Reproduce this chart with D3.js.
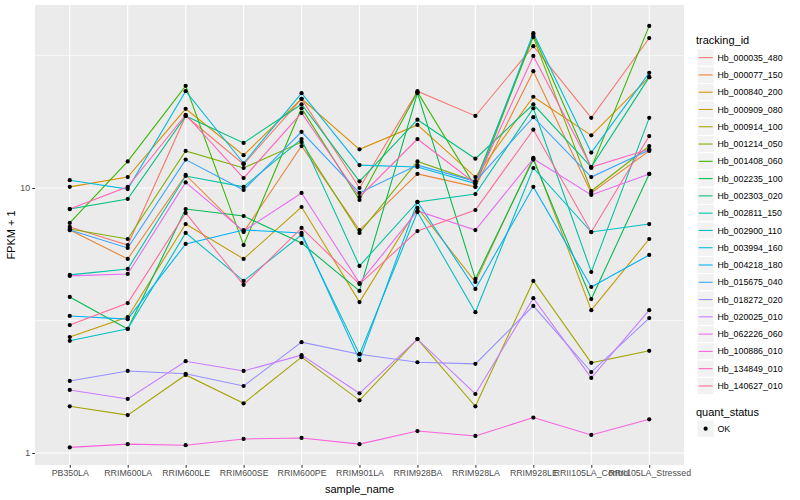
<!DOCTYPE html>
<html>
<head>
<meta charset="utf-8">
<script src="https://cdn.jsdelivr.net/npm/d3@7"></script>
<style>
  body { margin: 0; background: #fff; }
  text { font-family: "Liberation Sans", Arial, sans-serif; }
</style>
</head>
<body>
<svg id="chart" width="800" height="500"></svg>
<script>
// samples on the x axis
var samples = ["PB350LA", "RRIM600LA", "RRIM600LE", "RRIM600SE", "RRIM600PE", "RRIM901LA",
               "RRIM928BA", "RRIM928LA", "RRIM928LE", "RRII105LA_Control", "RRII105LA_Stressed"];

var trackingIds = ["Hb_000035_480", "Hb_000077_150", "Hb_000840_200", "Hb_000909_080", "Hb_000914_100",
                   "Hb_001214_050", "Hb_001408_060", "Hb_002235_100", "Hb_002303_020", "Hb_002811_150",
                   "Hb_002900_110", "Hb_003994_160", "Hb_004218_180", "Hb_015675_040", "Hb_018272_020",
                   "Hb_020025_010", "Hb_062226_060", "Hb_100886_010", "Hb_134849_010", "Hb_140627_010"];

// FPKM + 1, one array per gene, in sample order
var hb_000035_480 = [7.13, 6.09, 18.7, 12.3, 21.7, 10.0, 23.2, 18.7, 34.3, 18.4, 36.8];
var hb_000077_150 = [6.94, 5.40, 11.2, 6.82, 14.4, 6.94, 11.3, 10.1, 27.6, 9.58, 13.8];
var hb_000840_200 = [10.1, 11.0, 19.9, 13.3, 21.7, 14.0, 17.3, 11.0, 22.1, 15.8, 26.2];
var hb_000909_080 = [2.74, 3.26, 7.31, 5.40, 8.48, 3.71, 8.41, 4.42, 13.0, 3.46, 6.42];
var hb_000914_100 = [1.50, 1.39, 1.97, 1.54, 2.30, 1.58, 2.69, 1.50, 4.46, 2.19, 2.43];
var hb_001214_050 = [7.00, 6.42, 13.8, 11.9, 14.9, 6.77, 12.6, 10.6, 37.1, 9.74, 14.4];
var hb_001408_060 = [7.38, 12.6, 24.3, 6.09, 20.0, 9.01, 23.0, 10.1, 37.8, 11.9, 40.9];
var hb_002235_100 = [3.88, 2.94, 8.33, 7.84, 6.20, 4.09, 22.8, 4.54, 12.8, 3.81, 11.3];
var hb_002303_020 = [8.33, 9.09, 18.7, 14.8, 20.7, 10.6, 18.1, 12.9, 20.7, 12.0, 26.2];
var hb_002811_150 = [4.70, 4.95, 11.1, 10.1, 15.3, 5.08, 8.86, 9.49, 20.0, 4.82, 18.4];
var hb_002900_110 = [2.65, 2.94, 6.77, 4.46, 6.65, 2.36, 8.12, 3.40, 11.9, 6.82, 7.31];
var hb_003994_160 = [10.7, 9.91, 23.2, 12.4, 22.8, 12.2, 12.0, 10.4, 38.4, 13.6, 27.2];
var hb_004218_180 = [3.29, 3.20, 6.15, 6.94, 6.77, 2.24, 8.86, 4.16, 10.1, 4.23, 5.59];
var hb_015675_040 = [6.94, 5.94, 12.8, 9.83, 16.3, 9.58, 12.2, 10.6, 18.5, 11.0, 13.9];
var hb_018272_020 = [1.87, 2.04, 1.99, 1.79, 2.62, 2.36, 2.20, 2.17, 3.59, 2.02, 3.23];
var hb_020025_010 = [1.73, 1.60, 2.22, 2.04, 2.34, 1.68, 2.69, 1.67, 3.84, 1.92, 3.46];
var hb_062226_060 = [4.66, 4.74, 10.5, 6.88, 9.58, 4.38, 8.19, 6.94, 12.9, 9.41, 11.3];
var hb_100886_010 = [1.05, 1.08, 1.07, 1.13, 1.14, 1.08, 1.21, 1.16, 1.36, 1.17, 1.34];
var hb_134849_010 = [8.33, 10.1, 18.9, 10.9, 19.2, 9.25, 15.3, 10.4, 31.5, 12.0, 14.0];
var hb_140627_010 = [3.04, 3.68, 8.05, 4.31, 7.07, 4.34, 6.88, 8.26, 16.6, 6.82, 15.7];

var fpkm = [hb_000035_480, hb_000077_150, hb_000840_200, hb_000909_080, hb_000914_100,
            hb_001214_050, hb_001408_060, hb_002235_100, hb_002303_020, hb_002811_150,
            hb_002900_110, hb_003994_160, hb_004218_180, hb_015675_040, hb_018272_020,
            hb_020025_010, hb_062226_060, hb_100886_010, hb_134849_010, hb_140627_010];

var yTicks = [1, 10];
var quantStatus = ["OK"];

// ggplot hue palette for 20 groups
var colors = ["#F8766D", "#EA8331", "#D89000", "#C09B00", "#A3A500", "#7CAE00", "#39B600",
              "#00BB4E", "#00BF7D", "#00C1A3", "#00BFC4", "#00BAE0", "#00B0F6", "#35A2FF",
              "#9590FF", "#C77CFF", "#E76BF3", "#FA62DB", "#FF62BC", "#FF6A98"];

var svg = d3.select("#chart");
var panel = {left: 35, right: 684, top: 5, bottom: 465};

var x = d3.scalePoint()
    .domain(samples)
    .range([panel.left, panel.right])
    .padding(0.6);

var y = d3.scaleLog()
    .domain([Math.pow(10, -0.0453), Math.pow(10, 1.6906)])
    .range([panel.bottom, panel.top]);

// panel background
svg.append("rect")
    .attr("x", panel.left).attr("y", panel.top)
    .attr("width", panel.right - panel.left)
    .attr("height", panel.bottom - panel.top)
    .attr("fill", "#EBEBEB");

// minor grid (half decades)
svg.selectAll(".minor")
    .data([Math.pow(10, 0.5), Math.pow(10, 1.5)])
    .enter().append("line")
    .attr("x1", panel.left).attr("x2", panel.right)
    .attr("y1", function(d) { return y(d); })
    .attr("y2", function(d) { return y(d); })
    .attr("stroke", "#fff").attr("stroke-width", 0.55);

// major grid
svg.selectAll(".hgrid")
    .data(yTicks)
    .enter().append("line")
    .attr("x1", panel.left).attr("x2", panel.right)
    .attr("y1", function(d) { return y(d); })
    .attr("y2", function(d) { return y(d); })
    .attr("stroke", "#fff").attr("stroke-width", 1.1);

svg.selectAll(".vgrid")
    .data(samples)
    .enter().append("line")
    .attr("y1", panel.top).attr("y2", panel.bottom)
    .attr("x1", function(d) { return x(d); })
    .attr("x2", function(d) { return x(d); })
    .attr("stroke", "#fff").attr("stroke-width", 1.1);

// lines, one per gene
var line = d3.line()
    .x(function(d, i) { return x(samples[i]); })
    .y(function(d) { return y(d); });

svg.selectAll(".gene")
    .data(fpkm)
    .enter().append("path")
    .attr("d", line)
    .attr("fill", "none")
    .attr("stroke", function(d, i) { return colors[i]; })
    .attr("stroke-width", 1.07);

// points
var pts = [];
fpkm.forEach(function(series) {
    series.forEach(function(v, i) { pts.push({s: samples[i], v: v}); });
});
svg.selectAll(".pt")
    .data(pts)
    .enter().append("circle")
    .attr("cx", function(d) { return x(d.s); })
    .attr("cy", function(d) { return y(d.v); })
    .attr("r", 2.1)
    .attr("fill", "#000");

// axes
var yAxis = svg.append("g")
    .attr("transform", "translate(" + panel.left + ",0)")
    .call(d3.axisLeft(y).tickValues(yTicks).tickFormat(d3.format("d")).tickSize(2.74).tickPadding(2.2));
var xAxis = svg.append("g")
    .attr("transform", "translate(0," + panel.bottom + ")")
    .call(d3.axisBottom(x).tickSize(2.74).tickPadding(2.2));

[yAxis, xAxis].forEach(function(ax) {
    ax.select(".domain").remove();
    ax.selectAll(".tick line").attr("stroke", "#333333").attr("stroke-width", 1.07);
    ax.selectAll("text")
        .attr("fill", "#4D4D4D")
        .attr("font-size", "8.8px")
        .attr("font-family", "Liberation Sans, Arial, sans-serif");
});

svg.append("text")
    .attr("x", (panel.left + panel.right) / 2)
    .attr("y", 493)
    .attr("text-anchor", "middle")
    .attr("font-size", "11px")
    .text("sample_name");

svg.append("text")
    .attr("transform", "translate(15," + ((panel.top + panel.bottom) / 2) + ") rotate(-90)")
    .attr("text-anchor", "middle")
    .attr("font-size", "11px")
    .text("FPKM + 1");

// legend: tracking_id
var legend = svg.append("g").attr("transform", "translate(696,0)");
legend.append("text")
    .attr("x", 0).attr("y", 44)
    .attr("font-size", "11px")
    .text("tracking_id");

var keyH = 17.28;
var keys = legend.selectAll(".key")
    .data(trackingIds)
    .enter().append("g")
    .attr("transform", function(d, i) { return "translate(0," + (49 + i * keyH) + ")"; });

keys.append("rect")
    .attr("x", 1).attr("y", 0)
    .attr("width", keyH).attr("height", keyH)
    .attr("fill", "#F2F2F2").attr("stroke", "#fff");
keys.append("line")
    .attr("x1", 2.7).attr("x2", keyH - 0.7)
    .attr("y1", keyH / 2).attr("y2", keyH / 2)
    .attr("stroke", function(d, i) { return colors[i]; })
    .attr("stroke-width", 1.07);
keys.append("text")
    .attr("x", keyH + 4.2)
    .attr("y", keyH / 2 + 3.1)
    .attr("font-size", "8.8px")
    .text(function(d) { return d; });

// legend: quant_status
var legend2 = svg.append("g").attr("transform", "translate(696,0)");
legend2.append("text")
    .attr("x", 0).attr("y", 416)
    .attr("font-size", "11px")
    .text("quant_status");
var k2 = legend2.selectAll(".key2")
    .data(quantStatus)
    .enter().append("g")
    .attr("transform", "translate(0,420)");
k2.append("rect")
    .attr("x", 1).attr("y", 0)
    .attr("width", keyH).attr("height", keyH)
    .attr("fill", "#F2F2F2").attr("stroke", "#fff");
k2.append("circle")
    .attr("cx", 1 + keyH / 2).attr("cy", keyH / 2)
    .attr("r", 2.1).attr("fill", "#000");
k2.append("text")
    .attr("x", keyH + 4.2)
    .attr("y", keyH / 2 + 3.1)
    .attr("font-size", "8.8px")
    .text(function(d) { return d; });
</script>
</body>
</html>
